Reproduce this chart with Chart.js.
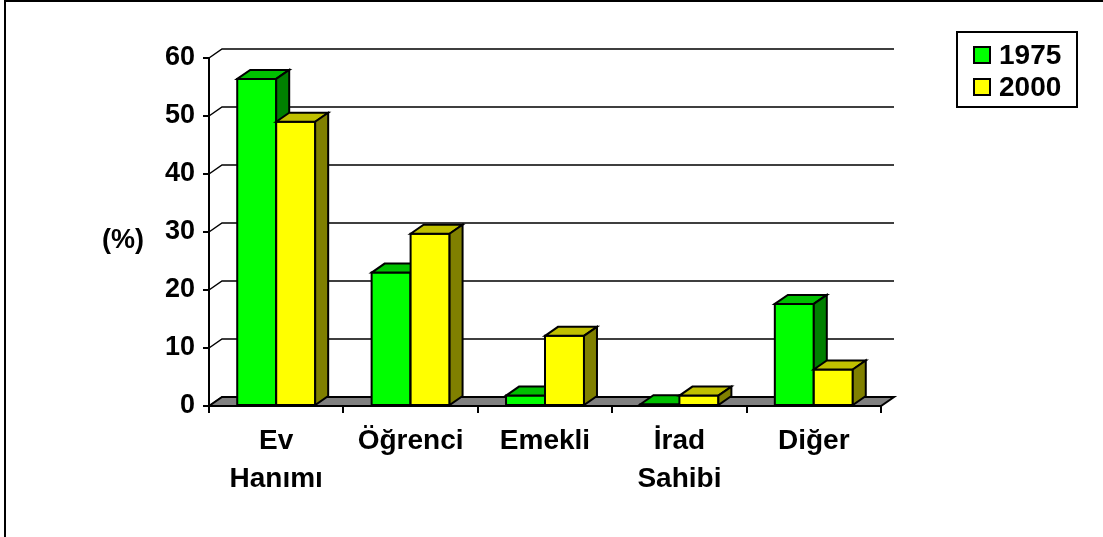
<!DOCTYPE html>
<html>
<head>
<meta charset="utf-8">
<script src="https://cdn.jsdelivr.net/npm/chart.js@4/dist/chart.umd.min.js"></script>
<style>
  html, body { margin: 0; padding: 0; background: #fff; overflow: hidden; }
  canvas { display: block; }
</style>
</head>
<body>
<canvas id="chart" width="1103" height="537"></canvas>
<script>
// categories and the two survey years (%)
const categories = [['Ev', 'Hanımı'], 'Öğrenci', 'Emekli', ['İrad', 'Sahibi'], 'Diğer'];
const seriesNames = ['1975', '2000'];
const values1975 = [56.4, 23.0, 1.8, 0.3, 17.6];
const values2000 = [49.0, 29.7, 12.1, 1.8, 6.3];
const yTicks = [0, 10, 20, 30, 40, 50, 60];
const yTitle = '(%)';

// front / top / side shades for the pseudo 3D bars
const shades = [
  { front: '#00ff00', top: '#00c000', side: '#008000' },
  { front: '#ffff00', top: '#c0c000', side: '#808000' }
];
const DX = 13, DY = 9;   // depth offset of the back wall
const FAMILY = '"Liberation Sans", Arial, sans-serif';

function poly(ctx, pts, fill) {
  ctx.beginPath();
  ctx.moveTo(pts[0][0], pts[0][1]);
  for (let i = 1; i < pts.length; i++) ctx.lineTo(pts[i][0], pts[i][1]);
  ctx.closePath();
  ctx.fillStyle = fill;
  ctx.fill();
  ctx.stroke();
}

const depthPlugin = {
  id: 'depth',
  beforeDatasetsDraw(chart) {
    const ctx = chart.ctx;
    const { left, right } = chart.chartArea;
    const ys = chart.scales.y;
    ctx.save();
    ctx.lineJoin = 'miter';

    // back wall lines and the left wall joins
    ctx.strokeStyle = '#000';
    ctx.lineWidth = 1.5;
    yTicks.forEach(v => {
      const py = ys.getPixelForValue(v);
      ctx.beginPath();
      ctx.moveTo(left, py);
      ctx.lineTo(left + DX, py - DY);
      ctx.lineTo(right + DX, py - DY);
      ctx.stroke();
    });

    // floor
    const b = ys.getPixelForValue(0);
    ctx.lineWidth = 2;
    poly(ctx, [[left, b], [right, b], [right + DX, b - DY], [left + DX, b - DY]], '#808080');

    // bars, category by category so the right bar covers the left one's side
    for (let i = 0; i < chart.data.labels.length; i++) {
      chart.data.datasets.forEach((ds, d) => {
        const bar = chart.getDatasetMeta(d).data[i];
        const l = bar.x - bar.width / 2, r = bar.x + bar.width / 2;
        const t = bar.y, bt = bar.base;
        const c = shades[d];
        poly(ctx, [[l, bt], [l, t], [r, t], [r, bt]], c.front);
        poly(ctx, [[l, t], [l + DX, t - DY], [r + DX, t - DY], [r, t]], c.top);
        poly(ctx, [[r, t], [r + DX, t - DY], [r + DX, bt - DY], [r, bt]], c.side);
      });
    }
    ctx.restore();
    return false;
  },
  afterDraw(chart) {
    const ctx = chart.ctx;
    ctx.save();

    // outer frame
    ctx.strokeStyle = '#000';
    ctx.lineWidth = 2;
    ctx.beginPath();
    ctx.moveTo(5, 537);
    ctx.lineTo(5, 1);
    ctx.lineTo(1103, 1);
    ctx.stroke();

    // horizontal axis title
    ctx.fillStyle = '#000';
    ctx.font = 'bold 27px ' + FAMILY;
    ctx.textAlign = 'center';
    ctx.textBaseline = 'middle';
    ctx.fillText(yTitle, 123, 241);

    // legend box
    ctx.strokeRect(957, 32, 120, 75);
    ctx.font = 'bold 28px ' + FAMILY;
    ctx.textAlign = 'left';
    chart.data.datasets.forEach((ds, d) => {
      const cy = 55 + d * 32;
      ctx.fillStyle = shades[d].front;
      ctx.fillRect(974, cy - 8, 16, 16);
      ctx.strokeRect(974, cy - 8, 16, 16);
      ctx.fillStyle = '#000';
      ctx.fillText(ds.label, 999, cy + 1);
    });
    ctx.restore();
  }
};

new Chart(document.getElementById('chart'), {
  type: 'bar',
  data: {
    labels: categories,
    datasets: [
      { label: seriesNames[0], data: values1975, backgroundColor: shades[0].front },
      { label: seriesNames[1], data: values2000, backgroundColor: shades[1].front }
    ]
  },
  options: {
    responsive: false,
    animation: false,
    devicePixelRatio: 1,
    categoryPercentage: 0.58,
    barPercentage: 1,
    layout: { padding: { left: 0, right: 222, top: 58, bottom: 0 } },
    plugins: { legend: { display: false }, tooltip: { enabled: false } },
    scales: {
      x: {
        afterFit(s) { s.height = 131; },
        grid: { offset: true, drawOnChartArea: false, tickLength: 7, color: '#000', lineWidth: 2 },
        border: { display: true, color: '#000', width: 2 },
        ticks: {
          color: '#000',
          padding: 9,
          maxRotation: 0,
          autoSkip: false,
          font: { family: FAMILY, size: 28, weight: 'bold', lineHeight: 1.36 }
        }
      },
      y: {
        min: 0,
        max: 60,
        afterFit(s) { s.width = 209; },
        grid: { drawOnChartArea: false, tickLength: 6, color: '#000', lineWidth: 2 },
        border: { display: true, color: '#000', width: 2 },
        ticks: {
          stepSize: 10,
          color: '#000',
          padding: 8,
          font: { family: FAMILY, size: 27, weight: 'bold' }
        }
      }
    }
  },
  plugins: [depthPlugin]
});
</script>
</body>
</html>
